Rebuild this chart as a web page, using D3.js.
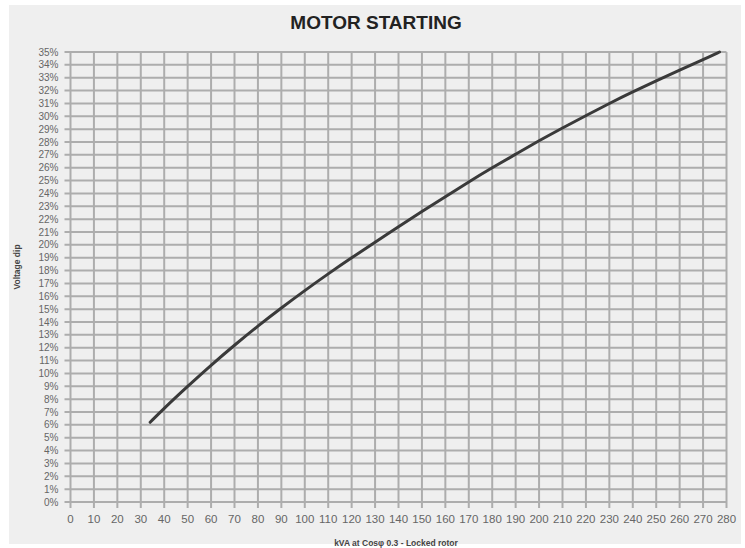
<!DOCTYPE html>
<html><head><meta charset="utf-8">
<script src="https://cdn.jsdelivr.net/npm/d3@7"></script>
<style>body{margin:0;background:#fff}svg{display:block}</style>
</head><body>
<script>
const kva = [34,40,50,60,70,80,90,100,110,120,130,140,150,160,170,180,190,200,210,220,230,240,250,260,270,277];
const dip = [6.2,7.3,9.0,10.65,12.2,13.7,15.1,16.45,17.75,19.0,20.2,21.4,22.6,23.75,24.9,26.0,27.05,28.1,29.1,30.05,31.0,31.9,32.75,33.6,34.4,35.0];
const xTicks = d3.range(0,281,10);
const yTicks = d3.range(0,36,1);
const title = "MOTOR STARTING";
const xTitle = "kVA at Cosφ 0.3 - Locked rotor";
const yTitle = "Voltage dip";

const W=745,H=548;
const svg=d3.select("body").append("svg").attr("width",W).attr("height",H);
svg.append("rect").attr("x",9).attr("y",5).attr("width",732).attr("height",539).attr("fill","#efefef");
const L=70.5,R=726.5,T=52,B=502;
const x=d3.scaleLinear().domain([0,280]).range([L,R]);
const y=d3.scaleLinear().domain([0,35]).range([B,T]);
const gc="#adadad";
// grid
svg.append("g").selectAll("line").data(xTicks).join("line")
 .attr("x1",d=>x(d)).attr("x2",d=>x(d)).attr("y1",T).attr("y2",B+6)
 .attr("stroke",gc).attr("stroke-width",2);
svg.append("g").selectAll("line").data(yTicks).join("line")
 .attr("x1",L-6).attr("x2",R).attr("y1",d=>y(d)).attr("y2",d=>y(d))
 .attr("stroke",gc).attr("stroke-width",2);
// labels
svg.append("g").selectAll("text").data(yTicks).join("text")
 .attr("x",L-12).attr("y",d=>y(d)+3.5).attr("text-anchor","end")
 .attr("font-family","Liberation Sans Narrow, Liberation Sans, sans-serif").attr("font-size",10).attr("fill","#666")
 .text(d=>d+"%");
svg.append("g").selectAll("text").data(xTicks).join("text")
 .attr("x",d=>x(d)).attr("y",523).attr("text-anchor","middle")
 .attr("font-family","Liberation Sans Narrow, Liberation Sans, sans-serif").attr("font-size",11.5).attr("fill","#666")
 .text(d=>d);
// curve
const line=d3.line().x((d,i)=>x(kva[i])).y((d,i)=>y(dip[i])).curve(d3.curveBasis);
svg.append("path").attr("d",line(kva)).attr("fill","none").attr("stroke","#3a3a3a").attr("stroke-width",3).attr("stroke-linecap","round");
// titles
svg.append("text").attr("x",376).attr("y",29).attr("text-anchor","middle")
 .attr("font-family","Liberation Sans, Arial, sans-serif").attr("font-weight","bold").attr("font-size",19).attr("fill","#222").text(title);
svg.append("text").attr("x",396).attr("y",546).attr("text-anchor","middle")
 .attr("font-family","Liberation Sans, Arial, sans-serif").attr("font-weight","bold").attr("font-size",8.5).attr("fill","#444").text(xTitle);
svg.append("text").attr("transform","translate(20,267) rotate(-90)").attr("text-anchor","middle")
 .attr("font-family","Liberation Sans, Arial, sans-serif").attr("font-weight","bold").attr("font-size",8.5).attr("fill","#444").text(yTitle);
</script>
</body></html>
